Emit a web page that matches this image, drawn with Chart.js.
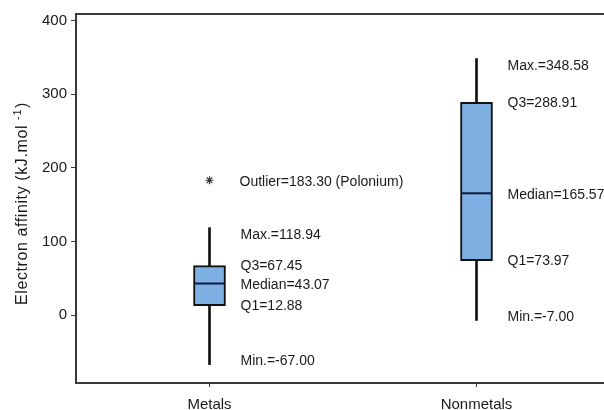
<!DOCTYPE html>
<html>
<head>
<meta charset="utf-8">
<script src="https://cdn.jsdelivr.net/npm/chart.js@4"></script>
<style>
  html, body { margin: 0; padding: 0; background: #fff; overflow: hidden; }
  #wrap { width: 610px; height: 410px; }
</style>
</head>
<body>
<div id="wrap"><canvas id="chart" width="610" height="410"></canvas></div>
<script>
// box plot numbers
const categories = ['Metals', 'Nonmetals'];
const minVals = [-67.00, -7.00];
const q1Vals = [12.88, 73.97];
const medianVals = [43.07, 165.57];
const q3Vals = [67.45, 288.91];
const maxVals = [118.94, 348.58];
const outlierVals = [183.30, null];
const outlierNames = ['Polonium', null];
const yTicks = [0, 100, 200, 300, 400];

const FONT = "'Liberation Sans', Arial, sans-serif";

// stat labels next to each box
const statLabels = [
  { name: 'Max.=', vals: maxVals, nudge: 8 },
  { name: 'Q3=', vals: q3Vals, nudge: 1 },
  { name: 'Median=', vals: medianVals, nudge: 2 },
  { name: 'Q1=', vals: q1Vals, nudge: 0 },
  { name: 'Min.=', vals: minVals, nudge: -3 }
];

const annotate = {
  id: 'annotate',
  afterDraw(chart) {
    const c = chart.ctx;
    const xs = chart.scales.x, ys = chart.scales.y;
    const area = chart.chartArea;
    c.save();
    // top frame line
    c.strokeStyle = '#3a3a3a';
    c.lineWidth = 2;
    c.beginPath();
    c.moveTo(area.left - 1, area.top);
    c.lineTo(area.right, area.top);
    c.stroke();

    c.fillStyle = '#1a1a1a';
    c.font = '14px ' + FONT;
    c.textAlign = 'left';
    c.textBaseline = 'middle';
    categories.forEach((cat, i) => {
      const x = xs.getPixelForValue(i) + 31;
      statLabels.forEach(s => {
        const v = s.vals[i];
        c.fillText(s.name + v.toFixed(2), x, ys.getPixelForValue(v) + s.nudge);
      });
      if (outlierVals[i] != null) {
        c.fillText('Outlier=' + outlierVals[i].toFixed(2) + ' (' + outlierNames[i] + ')',
          x - 1, ys.getPixelForValue(outlierVals[i]) + 2);
      }
    });

    // y axis title with superscript
    c.translate(23, 204);
    c.rotate(-Math.PI / 2);
    c.letterSpacing = '0.6px';
    c.font = '16px ' + FONT;
    const main = 'Electron affinity (kJ.mol ';
    const w1 = c.measureText(main).width;
    const w3 = c.measureText(')').width;
    c.font = '11px ' + FONT;
    const w2 = c.measureText('-1').width;
    let x0 = -(w1 + w2 + w3) / 2;
    c.font = '16px ' + FONT;
    c.fillText(main, x0, 0);
    c.font = '11px ' + FONT;
    c.fillText('-1', x0 + w1, -5);
    c.font = '16px ' + FONT;
    c.fillText(')', x0 + w1 + w2 + 1, 0);
    c.restore();
  }
};

const ctx = document.getElementById('chart').getContext('2d');
new Chart(ctx, {
  type: 'bar',
  data: {
    labels: categories,
    datasets: [
      {
        type: 'line',
        data: outlierVals,
        showLine: false,
        pointStyle: 'star',
        pointRadius: 4,
        pointBorderWidth: 1.2,
        pointBorderColor: '#333',
        pointBackgroundColor: '#333',
        order: 1
      },
      {
        type: 'line',
        data: medianVals,
        showLine: false,
        pointStyle: 'line',
        pointRadius: 15,
        pointBorderWidth: 2,
        pointBorderColor: '#0d1b3a',
        order: 2
      },
      {
        data: q1Vals.map((v, i) => [v, q3Vals[i]]),
        backgroundColor: '#7fb0e4',
        borderColor: '#111',
        borderWidth: 2,
        borderSkipped: false,
        barThickness: 32,
        grouped: false,
        order: 3
      },
      {
        data: minVals.map((v, i) => [v, maxVals[i]]),
        backgroundColor: '#111',
        barThickness: 2,
        grouped: false,
        order: 4
      }
    ]
  },
  options: {
    responsive: false,
    animation: false,
    layout: { autoPadding: false, padding: { top: 14, left: 0, right: 0, bottom: 0 } },
    plugins: {
      legend: { display: false },
      tooltip: { enabled: false }
    },
    scales: {
      x: {
        offset: true,
        afterFit: (s) => { s.height = 27; s.paddingLeft = 0; s.paddingRight = 0; },
        grid: { offset: false, drawOnChartArea: false, drawTicks: true, tickLength: 4, color: '#3a3a3a' },
        border: { color: '#3a3a3a', width: 2 },
        ticks: { color: '#1a1a1a', padding: 9, font: { family: FONT, size: 15 } }
      },
      y: {
        min: -92,
        max: 409,
        afterFit: (s) => { s.width = 76; s.paddingTop = 0; s.paddingBottom = 0; },
        afterBuildTicks: (s) => { s.ticks = yTicks.map(v => ({ value: v })); },
        grid: { drawOnChartArea: false, drawTicks: true, tickLength: 5, color: '#3a3a3a' },
        border: { color: '#3a3a3a', width: 2 },
        ticks: { color: '#1a1a1a', padding: 4, font: { family: FONT, size: 15 } }
      }
    }
  },
  plugins: [annotate]
});
</script>
</body>
</html>
